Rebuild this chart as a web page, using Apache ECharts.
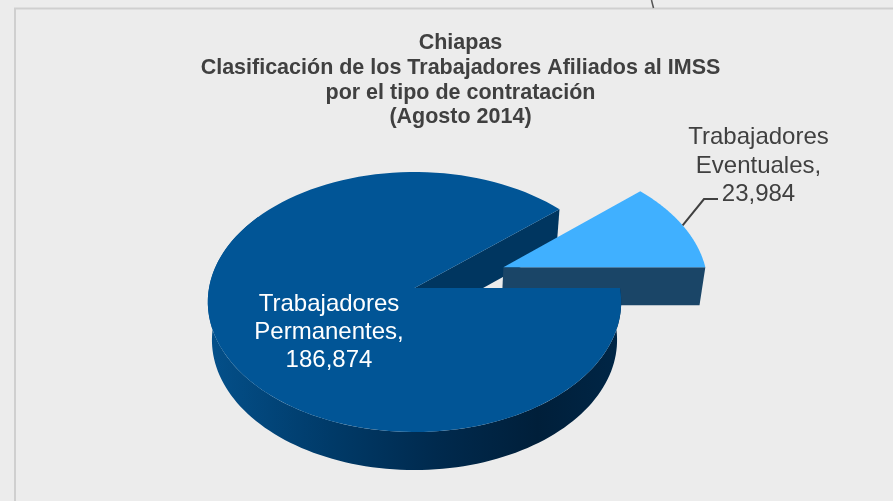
<!DOCTYPE html>
<html>
<head>
<meta charset="utf-8">
<style>
html,body{margin:0;padding:0;background:#ececec;}
#main{width:893px;height:501px;}
</style>
<script src="https://cdn.jsdelivr.net/npm/echarts@6/dist/echarts.min.js"></script>
</head>
<body>
<div id="main"></div>
<script>
var categories = ['Trabajadores Permanentes', 'Trabajadores Eventuales'];
var valores = [186874, 23984];
var titulo = ['Chiapas', 'Clasificación de los Trabajadores Afiliados al IMSS', 'por el tipo de contratación', '(Agosto 2014)'];

var total = valores[0] + valores[1];
var anguloEv = valores[1] / total * Math.PI * 2; // rebanada chica, arranca en 0 y abre hacia arriba

// proyeccion del plano del pay a pantalla
var cx = 414.5, cy = 288, rx = 205.5, ry = 128.5, persp = 0.1077;
var hondo = 38, escalaAbajo = 0.98;
var explode = 0.47;

function punto(u, v, abajo) {
  var w = 1 + persp * v;
  var x = rx * u / w, y = -ry * v / w;
  if (abajo) return [cx + x * escalaAbajo, cy + y + hondo];
  return [cx + x, cy + y];
}
function arco(a0, a1, ox, oy, abajo) {
  var pts = [], n = 120;
  for (var i = 0; i <= n; i++) {
    var a = a0 + (a1 - a0) * i / n;
    pts.push(punto(ox + Math.cos(a), oy + Math.sin(a), abajo));
  }
  return pts;
}
function poly(pts, fill) {
  return { type: 'polygon', shape: { points: pts }, style: { fill: fill } };
}
function capa(fn) {
  return {
    type: 'custom', coordinateSystem: 'none', silent: true,
    data: [total],
    renderItem: function () { return { type: 'group', children: fn() }; }
  };
}

var ox = explode * Math.cos(anguloEv / 2), oy = explode * Math.sin(anguloEv / 2);

// cara de corte de la rebanada grande, queda atras de todo
function capaCorte() {
  var ca = Math.cos(anguloEv), sa = Math.sin(anguloEv);
  return [poly([punto(0, 0), punto(ca, sa), punto(ca, sa, true), punto(0, 0, true)], '#003660')];
}
// rebanada eventuales
function capaEventuales() {
  var apice = punto(ox, oy), apiceB = punto(ox, oy, true);
  var der = punto(ox + 1, oy), derB = punto(ox + 1, oy, true);
  var medio = anguloEv / 2;
  var salida = punto(ox + Math.cos(medio), oy + Math.sin(medio));
  return [
    poly([apice, der, derB, apiceB], '#1a4567'),
    poly([apice].concat(arco(0, anguloEv, ox, oy)), '#40b0ff'),
    { type: 'polyline', shape: { points: [salida, [704, 199], [718, 199]] }, style: { fill: 'none', stroke: '#404040', lineWidth: 2 } },
    { type: 'text', style: { text: 'Trabajadores\nEventuales,\n' + valores[1].toLocaleString('en-US'), x: 758.5, y: 166, align: 'center', verticalAlign: 'middle', fill: '#404040', font: '24px "Liberation Sans"', lineHeight: 28.5 } }
  ];
}
// rebanada permanentes: pared de enfrente y cara de arriba
function capaPermanentes() {
  var arriba = arco(Math.PI * 0.8, Math.PI * 2, 0, 0);
  var abajo = arco(Math.PI * 2, Math.PI * 0.8, 0, 0, true);
  var degr = new echarts.graphic.LinearGradient(208, 0, 620, 0, [
    { offset: 0, color: '#04508a' },
    { offset: 0.3, color: '#003a68' },
    { offset: 0.55, color: '#002a4e' },
    { offset: 0.8, color: '#001f3a' },
    { offset: 1, color: '#002646' }
  ], true);
  return [
    poly(arriba.concat(abajo), degr),
    poly([punto(0, 0)].concat(arco(anguloEv, Math.PI * 2, 0, 0)), '#015596'),
    { type: 'text', style: { text: 'Trabajadores\nPermanentes,\n' + valores[0].toLocaleString('en-US'), x: 329, y: 332, align: 'center', verticalAlign: 'middle', fill: '#ffffff', font: '24px "Liberation Sans"', lineHeight: 28 } }
  ];
}

var chart = echarts.init(document.getElementById('main'));
chart.setOption({
  backgroundColor: '#ececec',
  animation: false,
  title: {
    text: titulo.join('\n'), left: 455.5, top: 26, textAlign: 'center',
    textStyle: { fontFamily: 'Liberation Sans', fontSize: 21.5, fontWeight: 'bold', color: '#404040', lineHeight: 24.7 }
  },
  graphic: [
    { type: 'polyline', silent: true, z: 0, shape: { points: [[15, 501], [15, 8.5], [893, 8.5]] }, style: { fill: 'none', stroke: '#cfcfcf', lineWidth: 2 } },
    { type: 'line', silent: true, z: 0, shape: { x1: 651.5, y1: 0, x2: 653.5, y2: 8 }, style: { stroke: '#555555', lineWidth: 1.5 } }
  ],
  series: [capa(capaCorte), capa(capaEventuales), capa(capaPermanentes)]
});
</script>
</body>
</html>
